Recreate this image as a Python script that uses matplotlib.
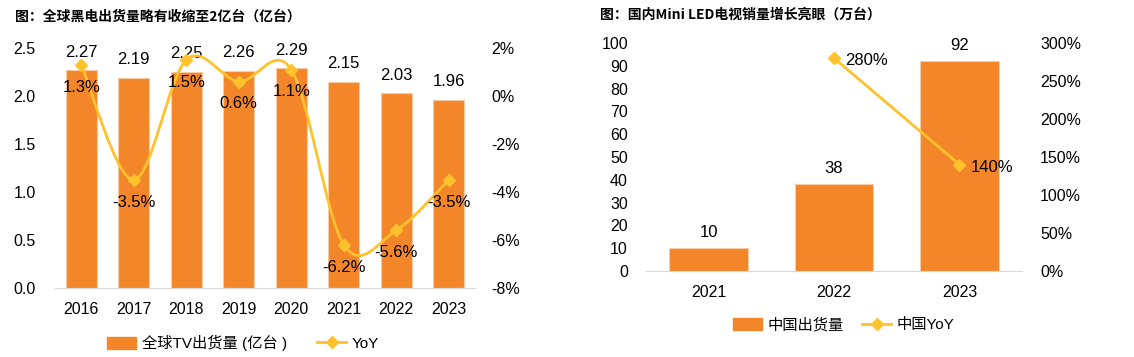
import numpy as np
import matplotlib
matplotlib.use("Agg")
import matplotlib.pyplot as plt
from matplotlib.path import Path
from matplotlib.patches import PathPatch
from matplotlib.ticker import FuncFormatter

plt.rcParams['font.family'] = ['Liberation Sans', 'Noto Sans CJK SC', 'DejaVu Sans']

# Data - left chart
years_l = ['2016', '2017', '2018', '2019', '2020', '2021', '2022', '2023']
tv_ship = [2.27, 2.19, 2.25, 2.26, 2.29, 2.15, 2.03, 1.96]
tv_yoy = [1.3, -3.5, 1.5, 0.6, 1.1, -6.2, -5.6, -3.5]

# Data - right chart
years_r = ['2021', '2022', '2023']
mini_ship = [10, 38, 92]
mini_yoy = [np.nan, 280, 140]

BAR = '#F4862A'
EDGE = '#F9CBA4'
LINE = '#FFC12C'
AXIS = '#D9D9D9'
TITLE_FONT = ['Noto Sans CJK SC']


def smooth_path(xs, ys):
    # Excel-style smoothed line: cubic bezier with catmull-rom control points
    xs = np.asarray(xs, float)
    ys = np.asarray(ys, float)
    n = len(xs)
    verts = [(xs[0], ys[0])]
    codes = [Path.MOVETO]
    for i in range(n - 1):
        p0 = np.array([xs[max(i - 1, 0)], ys[max(i - 1, 0)]])
        p1 = np.array([xs[i], ys[i]])
        p2 = np.array([xs[i + 1], ys[i + 1]])
        p3 = np.array([xs[min(i + 2, n - 1)], ys[min(i + 2, n - 1)]])
        c1 = p1 + (p2 - p0) / 6
        c2 = p2 - (p3 - p1) / 6
        verts += [tuple(c1), tuple(c2), tuple(p2)]
        codes += [Path.CURVE4] * 3
    return Path(verts, codes)


fig = plt.figure(figsize=(11.34, 3.57), dpi=100)

# ---------------- left chart ----------------
ax1 = fig.add_axes([0.0485, 0.1933, 0.3704, 0.6723])
x1 = np.arange(len(years_l))
ax1.bar(x1, tv_ship, width=0.59, color=BAR, edgecolor=EDGE, linewidth=0.8, zorder=2)
ax1.set_xlim(-0.5, 7.5)
ax1.set_ylim(0, 2.5)
ax1.set_yticks(np.arange(0, 2.51, 0.5))
ax1.yaxis.set_major_formatter(FuncFormatter(lambda v, p: f'{v:.1f}'))
ax1.set_xticks(x1)
ax1.set_xticklabels(years_l)
for s in ['top', 'right', 'left']:
    ax1.spines[s].set_visible(False)
ax1.spines['bottom'].set_color(AXIS)
ax1.tick_params(axis='both', length=0, labelsize=11.5)
ax1.tick_params(axis='x', pad=10)
ax1.tick_params(axis='y', pad=14)
for xi, v in zip(x1, tv_ship):
    ax1.annotate(f'{v:.2f}', (xi, v), xytext=(0, 13), textcoords='offset points',
                 ha='center', va='center', fontsize=12, zorder=5)

ax1r = ax1.twinx()
ax1r.set_ylim(-8, 2)
ax1r.set_yticks(np.arange(-8, 2.1, 2))
ax1r.yaxis.set_major_formatter(FuncFormatter(lambda v, p: f'{v:.0f}%'))
for s in ['top', 'right', 'left', 'bottom']:
    ax1r.spines[s].set_visible(False)
ax1r.tick_params(axis='y', length=0, labelsize=11.5, pad=12)
ax1r.add_patch(PathPatch(smooth_path(x1, tv_yoy), facecolor='none', edgecolor=LINE,
                         linewidth=2, zorder=3))
ax1r.plot(x1, tv_yoy, linestyle='none', marker='D', markersize=6, color=LINE, zorder=4)
for xi, v in zip(x1, tv_yoy):
    ax1r.annotate(f'{v:.1f}%', (xi, v), xytext=(0, -16), textcoords='offset points',
                  ha='center', va='center', fontsize=12, zorder=5)

leg_handles = [plt.Rectangle((0, 0), 1, 1, color=BAR),
               plt.Line2D([], [], color=LINE, linewidth=2, marker='D', markersize=6)]
fig.legend(leg_handles, ['全球TV出货量 (亿台 )', 'YoY'], loc='center',
           bbox_to_anchor=(243 / 1134, 1 - 343 / 357), ncol=2, frameon=False,
           fontsize=11, handlelength=1.9, handleheight=0.8, columnspacing=2.0,
           handletextpad=0.35)

fig.text(15 / 1134, 1 - 17 / 357, '图：全球黑电出货量略有收缩至2亿台（亿台）', fontsize=10,
         fontweight='bold', family=TITLE_FONT, ha='left', va='center')

# ---------------- right chart ----------------
ax2 = fig.add_axes([0.5697, 0.2409, 0.3316, 0.6387])
x2 = np.arange(len(years_r))
ax2.bar(x2, mini_ship, width=0.627, color=BAR, edgecolor=EDGE, linewidth=0.8, zorder=2)
ax2.set_xlim(-0.5, 2.5)
ax2.set_ylim(0, 100)
ax2.set_yticks(np.arange(0, 101, 10))
ax2.set_xticks(x2)
ax2.set_xticklabels(years_r)
for s in ['top', 'right', 'left']:
    ax2.spines[s].set_visible(False)
ax2.spines['bottom'].set_color(AXIS)
ax2.tick_params(axis='both', length=0, labelsize=11.5)
ax2.tick_params(axis='x', pad=10)
ax2.tick_params(axis='y', pad=13)
for xi, v in zip(x2, mini_ship):
    ax2.annotate(f'{v}', (xi, v), xytext=(0, 11.5), textcoords='offset points',
                 ha='center', va='center', fontsize=12, zorder=5)

ax2r = ax2.twinx()
ax2r.set_ylim(0, 300)
ax2r.set_yticks(np.arange(0, 301, 50))
ax2r.yaxis.set_major_formatter(FuncFormatter(lambda v, p: f'{v:.0f}%'))
for s in ['top', 'right', 'left', 'bottom']:
    ax2r.spines[s].set_visible(False)
ax2r.tick_params(axis='y', length=0, labelsize=11.5, pad=13)
ax2r.plot(x2, mini_yoy, color=LINE, linewidth=2, marker='D', markersize=6, zorder=4)
for xi, v in zip(x2, mini_yoy):
    if not np.isnan(v):
        ax2r.annotate(f'{v:.0f}%', (xi, v), xytext=(8, -2), textcoords='offset points',
                      ha='left', va='center', fontsize=12, zorder=5)

fig.legend(leg_handles, ['中国出货量', '中国YoY'], loc='center',
           bbox_to_anchor=(844 / 1134, 1 - 325 / 357), ncol=2, frameon=False,
           fontsize=11, handlelength=1.9, handleheight=0.8, columnspacing=1.2,
           handletextpad=0.35)

fig.text(600 / 1134, 1 - 15 / 357, '图：国内Mini LED电视销量增长亮眼（万台）', fontsize=10,
         fontweight='bold', family=TITLE_FONT, ha='left', va='center')

fig.savefig('out.png', dpi=100)
